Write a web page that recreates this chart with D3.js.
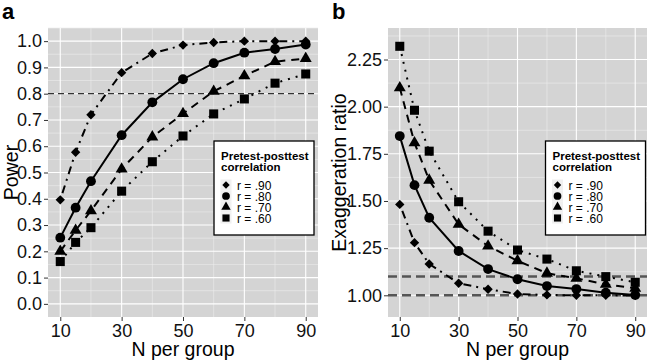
<!DOCTYPE html>
<html>
<head>
<meta charset="utf-8">
<script src="https://cdn.jsdelivr.net/npm/d3@7"></script>
<style>
  body { margin: 0; background: #fff; }
  text { font-family: "Liberation Sans", Arial, sans-serif; }
</style>
</head>
<body>
<div id="canvas"></div>
<script>
// data
const nPerGroup = [10, 15, 20, 30, 40, 50, 60, 70, 80, 90];
const corrLabels = ["r = .90", "r = .80", "r = .70", "r = .60"];

const power90 = [0.396, 0.577, 0.72, 0.88, 0.953, 0.985, 0.995, 1.0, 1.0, 1.0];
const power80 = [0.252, 0.366, 0.467, 0.642, 0.767, 0.855, 0.916, 0.956, 0.970, 0.987];
const power70 = [0.20, 0.28, 0.354, 0.513, 0.635, 0.724, 0.809, 0.868, 0.922, 0.934];
const power60 = [0.161, 0.234, 0.29, 0.429, 0.541, 0.639, 0.723, 0.78, 0.84, 0.875];

const exag90 = [1.482, 1.279, 1.166, 1.064, 1.032, 1.007, 1.002, 1.0, 1.0, 0.999];
const exag80 = [1.844, 1.584, 1.411, 1.235, 1.139, 1.085, 1.049, 1.033, 1.014, 1.002];
const exag70 = [2.10, 1.808, 1.61, 1.376, 1.261, 1.183, 1.117, 1.09, 1.058, 1.037];
const exag60 = [2.32, 1.981, 1.764, 1.496, 1.34, 1.24, 1.192, 1.13, 1.099, 1.069];

const xTicks = [10, 30, 50, 70, 90];
const powerTicks = [0, 0.1, 0.2, 0.3, 0.4, 0.5, 0.6, 0.7, 0.8, 0.9, 1.0];
const exagTicks = [1.0, 1.25, 1.5, 1.75, 2.0, 2.25];
const powerRef = [0.8];
const exagRef = [1.0, 1.1];

const svg = d3.select("#canvas").append("svg")
    .attr("width", 649)
    .attr("height", 362);

// styles per correlation series
const dashes = ["2,5,8,5", null, "8,6", "2,6"];
const shapes = ["diamond", "circle", "triangle", "square"];

function symbolPath(shape, scale) {
    if (shape === "circle") return d3.symbol(d3.symbolCircle, 76 * scale)();
    if (shape === "triangle") return d3.symbol(d3.symbolTriangle, 62 * scale)();
    if (shape === "square") return d3.symbol(d3.symbolSquare, 82 * scale)();
    return d3.symbol(d3.symbolSquare, 44 * scale)();
}

function drawPanel(opt) {
    const g = svg.append("g");
    const x = d3.scaleLinear().domain([6, 94]).range([opt.left, opt.right]);
    const y = d3.scaleLinear().domain(opt.yDomain).range([opt.bottom, opt.top]);

    g.append("rect")
        .attr("x", opt.left).attr("y", opt.top)
        .attr("width", opt.right - opt.left)
        .attr("height", opt.bottom - opt.top)
        .attr("fill", "#d4d4d4");

    // minor grid
    g.selectAll("line.minx")
        .data([20, 40, 60, 80])
        .enter().append("line")
        .attr("x1", d => x(d)).attr("x2", d => x(d))
        .attr("y1", opt.top).attr("y2", opt.bottom)
        .attr("stroke", "#ececec").attr("stroke-width", 0.6);
    g.selectAll("line.miny")
        .data(opt.yMinor)
        .enter().append("line")
        .attr("y1", d => y(d)).attr("y2", d => y(d))
        .attr("x1", opt.left).attr("x2", opt.right)
        .attr("stroke", "#ececec").attr("stroke-width", 0.6);

    // major grid
    g.selectAll("line.majx")
        .data(xTicks)
        .enter().append("line")
        .attr("x1", d => x(d)).attr("x2", d => x(d))
        .attr("y1", opt.top).attr("y2", opt.bottom)
        .attr("stroke", "#fff").attr("stroke-width", 1.1);
    g.selectAll("line.majy")
        .data(opt.yTicks)
        .enter().append("line")
        .attr("y1", d => y(d)).attr("y2", d => y(d))
        .attr("x1", opt.left).attr("x2", opt.right)
        .attr("stroke", "#fff").attr("stroke-width", 1.1);

    // reference lines
    g.selectAll("line.ref")
        .data(opt.refs)
        .enter().append("line")
        .attr("y1", d => y(d)).attr("y2", d => y(d))
        .attr("x1", opt.left).attr("x2", opt.right)
        .attr("stroke", opt.refColor)
        .attr("stroke-width", opt.refWidth)
        .attr("stroke-dasharray", opt.refDash);

    // axes
    const xAxis = g.append("g")
        .attr("transform", `translate(0, ${opt.bottom})`)
        .call(d3.axisBottom(x).tickValues(xTicks).tickSize(4).tickPadding(3));
    const yAxis = g.append("g")
        .attr("transform", `translate(${opt.left}, 0)`)
        .call(d3.axisLeft(y).tickValues(opt.yTicks).tickSize(4).tickPadding(2)
            .tickFormat(d3.format(opt.fmt)));
    [xAxis, yAxis].forEach(a => {
        a.select(".domain").remove();
        a.selectAll("line").attr("stroke", "#333");
        a.selectAll("text")
            .style("font-family", "'Liberation Sans', Arial, sans-serif")
            .style("font-size", "18px")
            .attr("fill", "#111");
    });

    // series
    const line = d3.line().x((d, i) => x(nPerGroup[i])).y(d => y(d));
    opt.series.forEach((vals, k) => {
        g.append("path")
            .datum(vals)
            .attr("d", line)
            .attr("fill", "none")
            .attr("stroke", "#000")
            .attr("stroke-width", 2)
            .attr("stroke-dasharray", dashes[k]);
    });
    opt.series.forEach((vals, k) => {
        g.selectAll(null)
            .data(vals)
            .enter().append("path")
            .attr("d", symbolPath(shapes[k], 1))
            .attr("transform", (d, i) => `translate(${x(nPerGroup[i])},${y(d)})` +
                (shapes[k] === "diamond" ? " rotate(45)" : ""))
            .attr("fill", "#000");
    });

    // axis titles
    svg.append("text")
        .attr("x", (opt.left + opt.right) / 2)
        .attr("y", 356)
        .attr("text-anchor", "middle")
        .style("font-size", "19.5px")
        .text("N per group");
    svg.append("text")
        .attr("transform", `translate(${opt.titleX}, ${(opt.top + opt.bottom) / 2}) rotate(-90)`)
        .attr("text-anchor", "middle")
        .style("font-size", "19.5px")
        .text(opt.yTitle);

    // panel letter
    svg.append("text")
        .attr("x", opt.letterX)
        .attr("y", 19)
        .style("font-size", "22px")
        .style("font-weight", "bold")
        .text(opt.letter);

    // legend
    const lg = svg.append("g")
        .attr("transform", `translate(${opt.legendX}, 141)`);
    lg.append("rect")
        .attr("width", 100).attr("height", 94)
        .attr("fill", "#fff")
        .attr("stroke", "#000")
        .attr("stroke-width", 1.3);
    lg.append("text")
        .attr("x", 7).attr("y", 19)
        .style("font-size", "11.5px").style("font-weight", "bold")
        .text("Pretest-posttest");
    lg.append("text")
        .attr("x", 7).attr("y", 30)
        .style("font-size", "11.5px").style("font-weight", "bold")
        .text("correlation");
    const items = lg.selectAll("g.item")
        .data(corrLabels)
        .enter().append("g")
        .attr("transform", (d, i) => `translate(12, ${44 + i * 11})`);
    items.append("rect")
        .attr("x", -5.5).attr("y", -5.5)
        .attr("width", 11).attr("height", 11)
        .attr("fill", "#f0f0f0");
    items.append("path")
        .attr("d", (d, i) => symbolPath(shapes[i], 0.62))
        .attr("transform", (d, i) => shapes[i] === "diamond" ? "rotate(45)" : null)
        .attr("fill", "#000");
    items.append("text")
        .attr("x", 11).attr("y", 4.5)
        .style("font-size", "12px")
        .text(d => d);
}

drawPanel({
    left: 48, right: 318, top: 28, bottom: 317,
    yDomain: [-0.05, 1.05],
    yTicks: powerTicks,
    yMinor: d3.range(0.05, 1.06, 0.1),
    fmt: ".1f",
    refs: powerRef, refColor: "#333", refWidth: 1.2, refDash: "6,4",
    series: [power90, power80, power70, power60],
    yTitle: "Power", titleX: 17.5,
    letter: "a", letterX: 2,
    legendX: 214
});

drawPanel({
    left: 388, right: 647, top: 28, bottom: 317,
    yDomain: [0.885, 2.417],
    yTicks: exagTicks,
    yMinor: d3.range(1.125, 2.4, 0.25),
    fmt: ".2f",
    refs: exagRef, refColor: "#555", refWidth: 2.4, refDash: "9,5",
    series: [exag90, exag80, exag70, exag60],
    yTitle: "Exaggeration ratio", titleX: 346,
    letter: "b", letterX: 332,
    legendX: 545.5
});
</script>
</body>
</html>
